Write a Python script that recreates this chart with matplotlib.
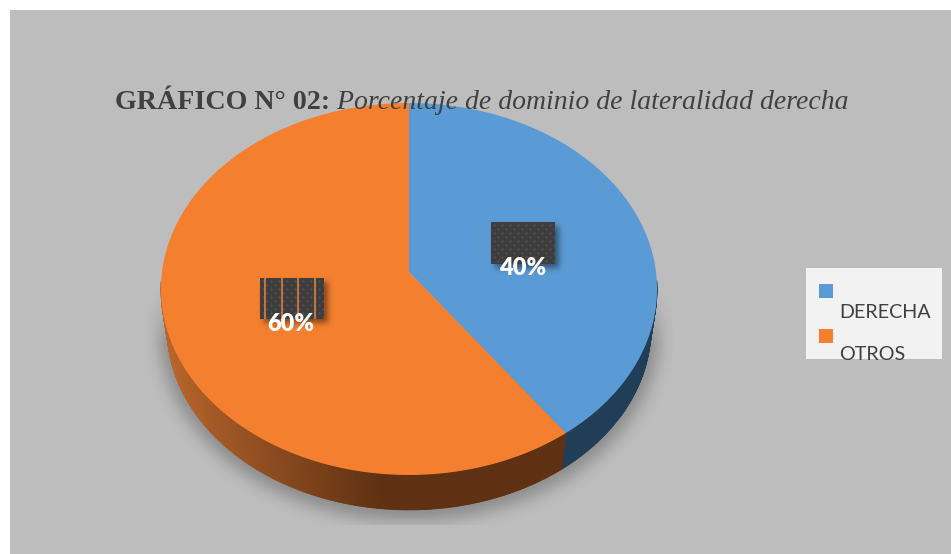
import numpy as np
import matplotlib
matplotlib.use('Agg')
import matplotlib.pyplot as plt
from matplotlib.patches import Rectangle

# datos del grafico
categorias = ['DERECHA', 'OTROS']
valores = [40, 60]
colores = ['#5b9bd5', '#f4802f']
colores_lado = [['#203e57', '#203e57'], ['#b8652c', '#5f3112']]
titulo_bold = 'GRÁFICO N° 02:'
titulo_italic = ' Porcentaje de dominio de lateralidad derecha'

W, H = 951, 554
fig = plt.figure(figsize=(W / 100, H / 100), dpi=100)
ax = fig.add_axes([0, 0, 1, 1])
ax.axis('off')
ax.set_xlim(0, W)
ax.set_ylim(H, 0)
ax.autoscale(False)


def blur(a, sigma):
    # desenfoque gaussiano simple, sin scipy
    r = int(sigma * 3)
    k = np.exp(-np.arange(-r, r + 1) ** 2 / (2 * sigma ** 2))
    k = k / k.sum()
    a = np.apply_along_axis(lambda m: np.convolve(m, k, mode='same'), 0, a)
    a = np.apply_along_axis(lambda m: np.convolve(m, k, mode='same'), 1, a)
    return a


def capa(alpha, x0, y0, color=(0, 0, 0), z=2):
    h, w = alpha.shape
    rgba = np.zeros((h, w, 4))
    rgba[..., :3] = color
    rgba[..., 3] = alpha
    ax.imshow(rgba, extent=(x0, x0 + w, y0 + h, y0), aspect='auto', zorder=z, interpolation='bilinear')


# fondo gris
ax.add_patch(Rectangle((10, 10), W - 10, H - 10, facecolor='#bdbdbd', edgecolor='none', zorder=0))

# perspectiva de la torta
cx, cy = 409, 272
A, B, K = 247, 184.4, -0.0914
S, D = 0.975, 40


def tapa(theta):
    u, v = np.sin(theta), -np.cos(theta)
    return cx + A * u / (1 + K * v), cy + B * v / (1 + K * v)


def base(theta):
    u, v = np.sin(theta), -np.cos(theta)
    return cx + S * A * u / (1 + K * v), cy + D + S * B * v / (1 + K * v)


# sombra bajo la torta
yy, xx = np.mgrid[250:560, 120:700]
mask = (((xx - 409) / 250.0) ** 2 + ((yy - 329) / 191.0) ** 2 < 1).astype(float)
alpha = blur(mask, 8) * 0.27
alpha *= np.clip((yy - 285) / 60.0, 0, 1)
alpha[(yy > 524) | (xx < 145) | (xx > 672)] = 0
capa(alpha, 120, 250, z=1)

# angulos de cada sector desde las 12, sentido horario
cortes = np.cumsum([0] + valores) / sum(valores) * 2 * np.pi

# pared lateral
for i in range(len(valores)):
    n = max(int((cortes[i + 1] - cortes[i]) * 120), 2)
    t = np.linspace(cortes[i], cortes[i + 1], n)
    c0 = np.array(matplotlib.colors.to_rgb(colores_lado[i][0]))
    c1 = np.array(matplotlib.colors.to_rgb(colores_lado[i][1]))
    for a, b in zip(t[:-1], t[1:]):
        if -np.cos((a + b) / 2) < 0.05:
            continue
        xa, ya = tapa(a)
        xb, yb = tapa(b)
        xc, yc = base(b)
        xd, yd = base(a)
        f = np.clip((xa - 165) / 215.0, 0, 1)
        col = c0 + (c1 - c0) * f
        ax.fill([xa, xb, xc, xd], [ya, yb, yc, yd], color=col, lw=0.6, zorder=3)

# cara superior
for i in range(len(valores)):
    t = np.linspace(cortes[i], cortes[i + 1], 200)
    xs, ys = tapa(t)
    ax.fill(np.r_[cx, xs], np.r_[cy, ys], facecolor=colores[i], edgecolor='none', zorder=4)

# etiquetas: caja oscura punteada y porcentaje
cajas = [(491, 222, 64, 42, []), (260, 278, 64, 41, [4, 21, 37, 54])]
textos = [(522.5, 268), (291, 324)]
for i in range(len(valores)):
    x0, y0, w, h, ranuras = cajas[i]
    m = 14
    sb = np.zeros((h + 2 * m, w + 2 * m))
    sb[m + 4:m + 4 + h, m + 4:m + 4 + w] = 1
    capa(blur(sb, 3) * 0.45, x0 - m, y0 - m, z=5)
    tex = np.ones((h, w, 4))
    tex[..., :3] = 0.245
    gy, gx = np.mgrid[0:h, 0:w]
    dots = ((gx % 8 == 3) & (gy % 8 == 3)) | ((gx % 8 == 7) & (gy % 8 == 7))
    tex[blur(dots.astype(float), 0.8) > 0.1, :3] = 0.30
    for r in ranuras:
        tex[:, r:r + 2, :3] = matplotlib.colors.to_rgb('#c4763c')
    ax.imshow(tex, extent=(x0, x0 + w, y0 + h, y0), aspect='auto', zorder=6, interpolation='bilinear')
    ax.text(textos[i][0], textos[i][1], f'{valores[i]}%', color='white', fontsize=17, fontweight='heavy',
            family='Lato', ha='center', va='center', zorder=7)

# leyenda
ax.add_patch(Rectangle((806, 268), 136, 91, facecolor='#f2f2f2', edgecolor='none', zorder=2))
ley_y = [291, 336]
txt_y = [312, 355]
for i in range(len(categorias)):
    ax.add_patch(Rectangle((819, ley_y[i] - 7), 14, 14, facecolor=colores[i], edgecolor='none', zorder=3))
    ax.text(839, txt_y[i], categorias[i], color='#404040', fontsize=14.2, family='Lato',
            ha='left', va='center', zorder=3)

# titulo en dos partes
t1 = ax.text(115, 109, titulo_bold, color='#404040', fontsize=20.2, fontweight='bold',
             family='Liberation Serif', ha='left', va='baseline', zorder=8)
fig.canvas.draw()
caja = t1.get_window_extent()
ax.text(caja.x1, 109, titulo_italic, color='#404040', fontsize=20.0, style='italic',
        family='Liberation Serif', ha='left', va='baseline', zorder=8)

fig.savefig('out.png', dpi=100, facecolor='white')
